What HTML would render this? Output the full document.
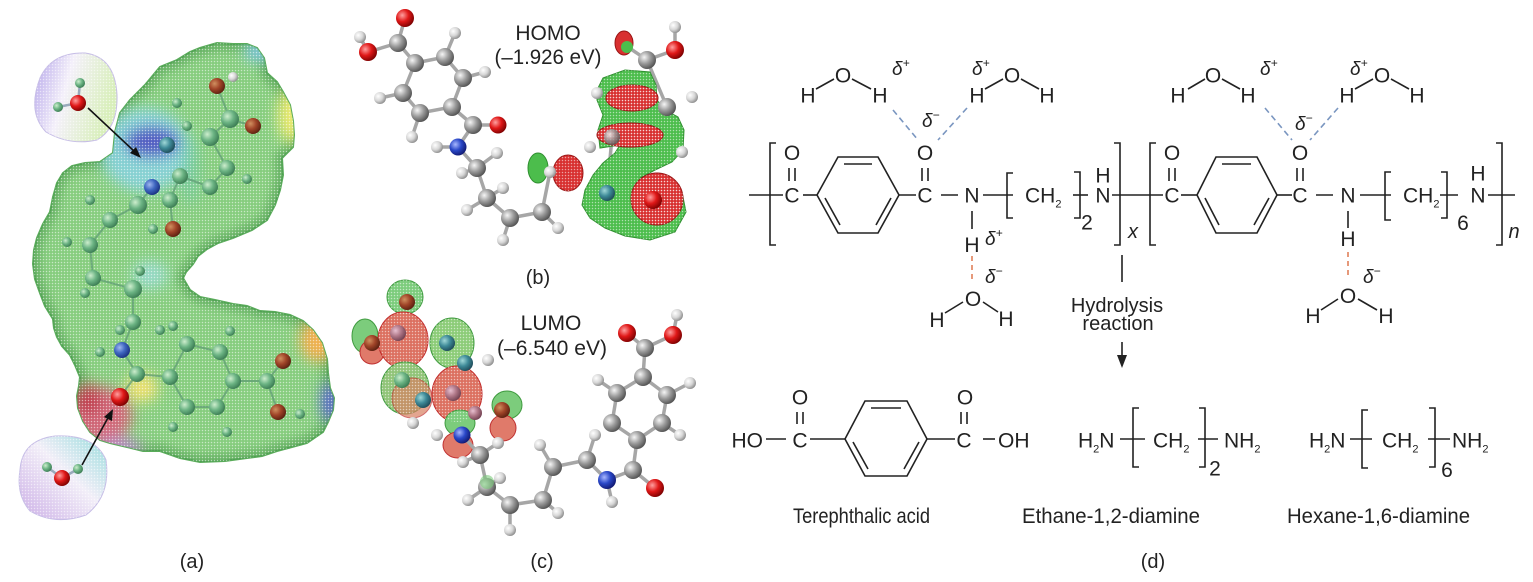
<!DOCTYPE html>
<html><head><meta charset="utf-8"><style>html,body{margin:0;padding:0;background:#fff;}svg{display:block;}</style></head><body>
<svg width="1533" height="582" viewBox="0 0 1533 582" xmlns="http://www.w3.org/2000/svg" font-family="'Liberation Sans', Arial, sans-serif">
<defs>
<radialGradient id="gC" cx="0.35" cy="0.35" r="0.7"><stop offset="0" stop-color="#f6f6f6"/><stop offset="0.5" stop-color="#9c9c9c"/><stop offset="1" stop-color="#505050"/></radialGradient>
<radialGradient id="gH" cx="0.35" cy="0.35" r="0.7"><stop offset="0" stop-color="#ffffff"/><stop offset="0.55" stop-color="#d6d6d6"/><stop offset="1" stop-color="#8a8a8a"/></radialGradient>
<radialGradient id="gO" cx="0.35" cy="0.35" r="0.7"><stop offset="0" stop-color="#ffa0a0"/><stop offset="0.5" stop-color="#e01818"/><stop offset="1" stop-color="#7a0000"/></radialGradient>
<radialGradient id="gN" cx="0.35" cy="0.35" r="0.7"><stop offset="0" stop-color="#a8b8ff"/><stop offset="0.5" stop-color="#2a48c8"/><stop offset="1" stop-color="#101870"/></radialGradient>
<radialGradient id="gG" cx="0.35" cy="0.35" r="0.7"><stop offset="0" stop-color="#cdeecd"/><stop offset="0.5" stop-color="#6cb484"/><stop offset="1" stop-color="#3a7a52"/></radialGradient>
<radialGradient id="gB" cx="0.35" cy="0.35" r="0.7"><stop offset="0" stop-color="#a0b8f0"/><stop offset="0.5" stop-color="#3e66c0"/><stop offset="1" stop-color="#1a3080"/></radialGradient>
<radialGradient id="gOd" cx="0.35" cy="0.35" r="0.7"><stop offset="0" stop-color="#d09060"/><stop offset="0.5" stop-color="#a04428"/><stop offset="1" stop-color="#5a2010"/></radialGradient>
<radialGradient id="gT" cx="0.35" cy="0.35" r="0.7"><stop offset="0" stop-color="#a0d8d8"/><stop offset="0.5" stop-color="#3e8a98"/><stop offset="1" stop-color="#1e4a58"/></radialGradient>
<radialGradient id="gP" cx="0.35" cy="0.35" r="0.7"><stop offset="0" stop-color="#e8c0d0"/><stop offset="0.5" stop-color="#b07888"/><stop offset="1" stop-color="#704050"/></radialGradient>
<linearGradient id="gW1" x1="0" y1="0" x2="1" y2="0.3"><stop offset="0" stop-color="#b4a4ea"/><stop offset="0.45" stop-color="#f4f0fa"/><stop offset="1" stop-color="#d8efba"/></linearGradient>
<linearGradient id="gW2" x1="1" y1="0" x2="0" y2="1"><stop offset="0" stop-color="#96dcdc"/><stop offset="0.45" stop-color="#f2eef8"/><stop offset="1" stop-color="#cbaee6"/></linearGradient>
<pattern id="mesh" width="3" height="3" patternUnits="userSpaceOnUse"><circle cx="1.5" cy="1.5" r="0.75" fill="#ffffff" opacity="0.55"/></pattern>
<filter id="bl" x="-50%" y="-50%" width="200%" height="200%"><feGaussianBlur stdDeviation="7"/></filter>
<filter id="bl2" x="-50%" y="-50%" width="200%" height="200%"><feGaussianBlur stdDeviation="4"/></filter>
<clipPath id="clipA"><polygon id="pA" points="113,153 115,132 120,113 130,100 145,85 160,67 177,60 190,52 200,48 217,43 233,44 247,44 257,48 264,58 267,73 277,82 283,92 290,105 293,121 294,135 293,147 282,158 283,175 280,190 275,205 267,220 252,230 233,238 218,243 207,249 198,256 193,264 186,272 183,278 190,290 200,297 215,300 233,304 247,306 260,311 275,312 290,315 303,321 313,330 322,343 327,359 328,373 330,388 334,398 333,410 328,422 323,432 307,443 292,447 277,451 262,456 247,458 225,461 200,462 180,458 160,451 143,451 127,447 110,443 100,440 90,432 83,421 78,408 77,396 79,386 80,377 75,365 70,355 62,346 57,337 54,328 53,319 45,306 40,293 35,279 33,264 34,250 37,238 43,224 50,212 53,197 57,183 63,173 72,166 85,163 100,162"/></clipPath>
</defs>
<rect width="1533" height="582" fill="#fff"/>

<!-- ===== Panel (a) ===== -->
<g>
  <path d="M40,78 Q52,52 85,53 Q115,57 117,95 Q118,128 97,140 Q70,146 46,132 Q27,112 40,78Z" fill="url(#gW1)" stroke="#c6bde6" stroke-width="1"/>
  <path d="M40,78 Q52,52 85,53 Q115,57 117,95 Q118,128 97,140 Q70,146 46,132 Q27,112 40,78Z" fill="url(#mesh)"/>
  <path d="M20,470 Q22,440 55,436 Q95,434 106,460 Q111,496 86,515 Q55,526 30,511 Q16,495 20,470Z" fill="url(#gW2)" stroke="#c6bde6" stroke-width="1"/>
  <path d="M20,470 Q22,440 55,436 Q95,434 106,460 Q111,496 86,515 Q55,526 30,511 Q16,495 20,470Z" fill="url(#mesh)"/>

  <use href="#pA" fill="#86cd7e" stroke="#5aac5a" stroke-width="2"/>
  <g clip-path="url(#clipA)">
    <use href="#pA" fill="none" stroke="#3f8f45" stroke-width="14" opacity="0.45" filter="url(#bl2)"/>
    <g filter="url(#bl)">
      <ellipse cx="145" cy="150" rx="45" ry="42" fill="#86d2dc" opacity="0.9"/>
      <ellipse cx="152" cy="142" rx="28" ry="16" fill="#4b50c0" opacity="0.9"/>
      <ellipse cx="150" cy="275" rx="18" ry="14" fill="#9adcd8" opacity="0.8"/>
      <ellipse cx="292" cy="115" rx="14" ry="28" fill="#eaea70"/>
      <ellipse cx="258" cy="52" rx="14" ry="10" fill="#80c8e0"/>
      <ellipse cx="318" cy="340" rx="18" ry="22" fill="#f0b050"/>
      <ellipse cx="330" cy="402" rx="9" ry="20" fill="#5a68d0"/>
      <ellipse cx="100" cy="415" rx="32" ry="28" fill="#d06878"/>
      <ellipse cx="88" cy="400" rx="14" ry="16" fill="#c04050"/>
      <ellipse cx="142" cy="388" rx="16" ry="14" fill="#ece070"/>
      <ellipse cx="120" cy="448" rx="22" ry="10" fill="#b890c8"/>
      <ellipse cx="190" cy="170" rx="10" ry="35" fill="#6ec8a8" opacity="0.6"/>
    </g>
  </g>
  <use href="#pA" fill="url(#mesh)"/>
  <g stroke="#5e9a74" stroke-width="2" opacity="0.7">
    <line x1="217" y1="86" x2="230" y2="119"/><line x1="230" y1="119" x2="253" y2="126"/><line x1="230" y1="119" x2="210" y2="137"/>
    <line x1="210" y1="137" x2="227" y2="168"/><line x1="227" y1="168" x2="210" y2="187"/><line x1="210" y1="187" x2="180" y2="176"/>
    <line x1="180" y1="176" x2="170" y2="200"/><line x1="170" y1="200" x2="173" y2="229"/><line x1="152" y1="187" x2="138" y2="205"/>
    <line x1="138" y1="205" x2="110" y2="220"/><line x1="110" y1="220" x2="90" y2="245"/><line x1="90" y1="245" x2="93" y2="278"/>
    <line x1="93" y1="278" x2="133" y2="289"/><line x1="133" y1="289" x2="133" y2="322"/><line x1="133" y1="322" x2="122" y2="350"/>
    <line x1="122" y1="350" x2="137" y2="374"/><line x1="137" y1="374" x2="170" y2="377"/><line x1="170" y1="377" x2="187" y2="344"/>
    <line x1="187" y1="344" x2="220" y2="352"/><line x1="220" y1="352" x2="233" y2="381"/><line x1="233" y1="381" x2="267" y2="381"/>
    <line x1="267" y1="381" x2="283" y2="361"/><line x1="267" y1="381" x2="278" y2="412"/><line x1="233" y1="381" x2="217" y2="407"/>
    <line x1="217" y1="407" x2="187" y2="407"/><line x1="187" y1="407" x2="170" y2="377"/><line x1="137" y1="374" x2="120" y2="397"/>
  </g>
  <g>
    <circle cx="217" cy="86" r="8" fill="url(#gOd)"/><circle cx="233" cy="77" r="5" fill="url(#gH)"/>
    <circle cx="253" cy="126" r="8" fill="url(#gOd)"/><circle cx="230" cy="119" r="9" fill="url(#gG)"/>
    <circle cx="210" cy="137" r="9" fill="url(#gG)"/><circle cx="187" cy="126" r="5" fill="url(#gG)"/>
    <circle cx="177" cy="103" r="5" fill="url(#gG)"/><circle cx="167" cy="145" r="8" fill="url(#gT)"/>
    <circle cx="227" cy="168" r="8" fill="url(#gG)"/><circle cx="247" cy="179" r="5" fill="url(#gG)"/>
    <circle cx="210" cy="187" r="8" fill="url(#gG)"/><circle cx="180" cy="176" r="8" fill="url(#gG)"/>
    <circle cx="152" cy="187" r="8" fill="url(#gB)"/><circle cx="170" cy="200" r="8" fill="url(#gG)"/>
    <circle cx="138" cy="205" r="9" fill="url(#gG)"/><circle cx="173" cy="229" r="8" fill="url(#gOd)"/>
    <circle cx="153" cy="229" r="5" fill="url(#gG)"/><circle cx="110" cy="220" r="8" fill="url(#gG)"/>
    <circle cx="90" cy="200" r="5" fill="url(#gG)"/><circle cx="90" cy="245" r="8" fill="url(#gG)"/>
    <circle cx="67" cy="242" r="5" fill="url(#gG)"/><circle cx="93" cy="278" r="8" fill="url(#gG)"/>
    <circle cx="133" cy="289" r="9" fill="url(#gG)"/><circle cx="140" cy="271" r="5" fill="url(#gG)"/>
    <circle cx="85" cy="293" r="5" fill="url(#gG)"/><circle cx="133" cy="322" r="8" fill="url(#gG)"/>
    <circle cx="120" cy="330" r="5" fill="url(#gG)"/><circle cx="160" cy="330" r="5" fill="url(#gG)"/>
    <circle cx="173" cy="326" r="5" fill="url(#gG)"/><circle cx="122" cy="350" r="8" fill="url(#gB)"/>
    <circle cx="100" cy="352" r="5" fill="url(#gG)"/><circle cx="137" cy="374" r="8" fill="url(#gG)"/>
    <circle cx="170" cy="377" r="8" fill="url(#gG)"/><circle cx="187" cy="344" r="8" fill="url(#gG)"/>
    <circle cx="220" cy="352" r="8" fill="url(#gG)"/><circle cx="230" cy="331" r="5" fill="url(#gG)"/>
    <circle cx="233" cy="381" r="8" fill="url(#gG)"/><circle cx="267" cy="381" r="8" fill="url(#gG)"/>
    <circle cx="283" cy="361" r="8" fill="url(#gOd)"/><circle cx="278" cy="412" r="8" fill="url(#gOd)"/>
    <circle cx="300" cy="414" r="5" fill="url(#gG)"/><circle cx="187" cy="407" r="8" fill="url(#gG)"/>
    <circle cx="217" cy="407" r="8" fill="url(#gG)"/><circle cx="173" cy="427" r="5" fill="url(#gG)"/>
    <circle cx="227" cy="432" r="5" fill="url(#gG)"/><circle cx="120" cy="397" r="9" fill="url(#gO)"/>
  </g>
  <line x1="58" y1="107" x2="78" y2="103" stroke="#9ab" stroke-width="2.5"/><line x1="80" y1="83" x2="78" y2="103" stroke="#9ab" stroke-width="2.5"/>
  <circle cx="58" cy="107" r="5" fill="url(#gG)"/><circle cx="80" cy="83" r="5" fill="url(#gG)"/><circle cx="78" cy="103" r="8" fill="url(#gO)"/>
  <line x1="47" y1="467" x2="62" y2="478" stroke="#9ab" stroke-width="2.5"/><line x1="78" y1="469" x2="62" y2="478" stroke="#9ab" stroke-width="2.5"/>
  <circle cx="47" cy="467" r="5" fill="url(#gG)"/><circle cx="78" cy="469" r="5" fill="url(#gG)"/><circle cx="62" cy="478" r="8" fill="url(#gO)"/>
  <line x1="88" y1="108" x2="135" y2="152" stroke="#111" stroke-width="1.6"/>
  <polygon points="141,158 130,153 136,147" fill="#111"/>
  <line x1="82" y1="465" x2="109" y2="416" stroke="#111" stroke-width="1.6"/>
  <polygon points="113,409 112,421 104,417" fill="#111"/>
  <text x="192" y="568" font-size="20" text-anchor="middle" fill="#222">(a)</text>
</g>

<!-- ===== Panel (b) ===== -->
<g>
  <g stroke="#a6a6a6" stroke-width="3.5" stroke-linecap="round">
    <line x1="405" y1="18" x2="398" y2="43"/><line x1="398" y1="43" x2="368" y2="52"/><line x1="368" y1="52" x2="360" y2="37"/>
    <line x1="398" y1="43" x2="415" y2="63"/>
    <polyline points="415,63 445,57 463,78 452,107 420,113 403,93 415,63" fill="none"/>
    <line x1="445" y1="57" x2="455" y2="33"/><line x1="463" y1="78" x2="485" y2="72"/><line x1="403" y1="93" x2="380" y2="98"/><line x1="420" y1="113" x2="412" y2="137"/>
    <line x1="452" y1="107" x2="473" y2="125"/><line x1="473" y1="125" x2="498" y2="125"/><line x1="473" y1="125" x2="458" y2="147"/>
    <line x1="458" y1="147" x2="437" y2="147"/><line x1="458" y1="147" x2="477" y2="168"/>
    <line x1="477" y1="168" x2="497" y2="153"/><line x1="477" y1="168" x2="462" y2="173"/><line x1="477" y1="168" x2="487" y2="198"/>
    <line x1="487" y1="198" x2="503" y2="188"/><line x1="487" y1="198" x2="467" y2="210"/><line x1="487" y1="198" x2="510" y2="218"/>
    <line x1="510" y1="218" x2="503" y2="240"/><line x1="510" y1="218" x2="542" y2="212"/><line x1="542" y1="212" x2="558" y2="228"/>
    <line x1="542" y1="212" x2="550" y2="172"/>
    <line x1="612" y1="137" x2="607" y2="193"/><line x1="607" y1="193" x2="653" y2="200"/><line x1="612" y1="137" x2="667" y2="107"/>
    <line x1="647" y1="60" x2="667" y2="107"/><line x1="647" y1="60" x2="625" y2="45"/><line x1="647" y1="60" x2="675" y2="50"/><line x1="675" y1="50" x2="675" y2="27"/>
  </g>
  <circle cx="405" cy="18" r="9" fill="url(#gO)"/><circle cx="398" cy="43" r="9" fill="url(#gC)"/>
  <circle cx="360" cy="37" r="6" fill="url(#gH)"/><circle cx="368" cy="52" r="9" fill="url(#gO)"/>
  <circle cx="455" cy="33" r="6" fill="url(#gH)"/><circle cx="485" cy="72" r="6" fill="url(#gH)"/><circle cx="380" cy="98" r="6" fill="url(#gH)"/><circle cx="412" cy="137" r="6" fill="url(#gH)"/>
  <circle cx="415" cy="63" r="9" fill="url(#gC)"/><circle cx="445" cy="57" r="9" fill="url(#gC)"/><circle cx="463" cy="78" r="9" fill="url(#gC)"/>
  <circle cx="452" cy="107" r="9" fill="url(#gC)"/><circle cx="420" cy="113" r="9" fill="url(#gC)"/><circle cx="403" cy="93" r="9" fill="url(#gC)"/>
  <circle cx="473" cy="125" r="9" fill="url(#gC)"/><circle cx="498" cy="125" r="8.5" fill="url(#gO)"/>
  <circle cx="437" cy="147" r="6" fill="url(#gH)"/><circle cx="458" cy="147" r="8.5" fill="url(#gN)"/>
  <circle cx="497" cy="153" r="6" fill="url(#gH)"/><circle cx="462" cy="173" r="6" fill="url(#gH)"/><circle cx="477" cy="168" r="9" fill="url(#gC)"/>
  <circle cx="503" cy="188" r="6" fill="url(#gH)"/><circle cx="467" cy="210" r="6" fill="url(#gH)"/><circle cx="487" cy="198" r="9" fill="url(#gC)"/>
  <circle cx="503" cy="240" r="6" fill="url(#gH)"/><circle cx="510" cy="218" r="9" fill="url(#gC)"/>
  <circle cx="558" cy="228" r="6" fill="url(#gH)"/><circle cx="542" cy="212" r="9" fill="url(#gC)"/>
  <g stroke-width="1">
    <path d="M603,78 L625,70 L650,72 L656,85 L657,100 L665,110 L678,117 L684,130 L683,150 L672,162 L655,170 L640,178 L665,178 L682,192 L686,212 L675,232 L650,240 L625,236 L605,228 L590,218 L582,205 L585,190 L593,175 L603,163 L615,153 L620,145 L600,148 L598,130 L603,115 L597,100 L598,88Z" fill="#4cbd4c" stroke="#2f8f2f"/>
    <ellipse cx="538" cy="168" rx="10" ry="15" fill="#4cbd4c" stroke="#2f8f2f"/>
    <ellipse cx="568" cy="173" rx="15" ry="18" fill="#d83030" stroke="#9a1414"/>
    <ellipse cx="632" cy="98" rx="26" ry="13" fill="#d83030" stroke="#9a1414"/>
    <ellipse cx="630" cy="135" rx="33" ry="12" fill="#d83030" stroke="#9a1414"/>
    <circle cx="657" cy="199" r="26" fill="#d83030" stroke="#9a1414"/>
    <ellipse cx="624" cy="43" rx="9" ry="12" fill="#d83030" stroke="#9a1414"/>
    <ellipse cx="627" cy="47" rx="6" ry="6" fill="#4cbd4c"/>
    <path d="M603,78 L625,70 L650,72 L656,85 L657,100 L665,110 L678,117 L684,130 L683,150 L672,162 L655,170 L640,178 L665,178 L682,192 L686,212 L675,232 L650,240 L625,236 L605,228 L590,218 L582,205 L585,190 L593,175 L603,163 L615,153 L620,145 L600,148 L598,130 L603,115 L597,100 L598,88Z" fill="url(#mesh)"/>
    <ellipse cx="632" cy="98" rx="26" ry="13" fill="url(#mesh)"/><ellipse cx="630" cy="135" rx="33" ry="12" fill="url(#mesh)"/>
    <circle cx="657" cy="199" r="26" fill="url(#mesh)"/><ellipse cx="568" cy="173" rx="15" ry="18" fill="url(#mesh)"/>
  </g>
  <circle cx="647" cy="60" r="9" fill="url(#gC)"/><circle cx="675" cy="27" r="6" fill="url(#gH)"/><circle cx="675" cy="50" r="9" fill="url(#gO)"/>
  <circle cx="597" cy="93" r="6" fill="url(#gH)"/><circle cx="667" cy="107" r="9" fill="url(#gC)"/><circle cx="692" cy="97" r="6" fill="url(#gH)"/>
  <circle cx="612" cy="137" r="8" fill="url(#gC)" opacity="0.85"/><circle cx="590" cy="147" r="6" fill="url(#gH)"/><circle cx="682" cy="152" r="6" fill="url(#gH)"/>
  <circle cx="607" cy="193" r="8" fill="url(#gT)"/><circle cx="653" cy="200" r="9" fill="url(#gO)"/><circle cx="550" cy="172" r="6" fill="url(#gH)"/>
  <text x="548" y="40" font-size="21" text-anchor="middle" fill="#222">HOMO</text>
  <text x="548" y="64" font-size="21" text-anchor="middle" fill="#222" textLength="107" lengthAdjust="spacingAndGlyphs">(–1.926 eV)</text>
  <text x="538" y="284" font-size="20" text-anchor="middle" fill="#222">(b)</text>
</g>

<!-- ===== Panel (c) ===== -->
<g>
  <g stroke-width="1">
    <ellipse cx="405" cy="297" rx="18" ry="17" fill="#7ccc7c" stroke="#3e9a3e"/>
    <ellipse cx="365" cy="336" rx="13" ry="17" fill="#7ccc7c" stroke="#3e9a3e"/>
    <ellipse cx="372" cy="352" rx="12" ry="12" fill="#e07a6a" stroke="#c03030"/>
    <ellipse cx="403" cy="340" rx="25" ry="28" fill="#dc7060" stroke="#c02828"/>
    <ellipse cx="452" cy="343" rx="22" ry="25" fill="#8ccc78" stroke="#3e9a3e"/>
    <ellipse cx="405" cy="388" rx="24" ry="26" fill="#90c478" stroke="#3e9a3e"/>
    <ellipse cx="412" cy="398" rx="20" ry="20" fill="#d88060" stroke="#c03030" opacity="0.7"/>
    <ellipse cx="457" cy="394" rx="25" ry="28" fill="#dc7060" stroke="#c02828"/>
    <ellipse cx="507" cy="405" rx="15" ry="14" fill="#7ccc7c" stroke="#3e9a3e"/>
    <ellipse cx="503" cy="428" rx="13" ry="13" fill="#e07a6a" stroke="#c03030"/>
    <ellipse cx="460" cy="423" rx="15" ry="13" fill="#7ccc7c" stroke="#3e9a3e"/>
    <ellipse cx="458" cy="445" rx="15" ry="13" fill="#e07a6a" stroke="#c03030"/>
    <ellipse cx="405" cy="297" rx="18" ry="17" fill="url(#mesh)"/><ellipse cx="403" cy="340" rx="25" ry="28" fill="url(#mesh)"/>
    <ellipse cx="452" cy="343" rx="22" ry="25" fill="url(#mesh)"/><ellipse cx="405" cy="388" rx="24" ry="26" fill="url(#mesh)"/>
    <ellipse cx="457" cy="394" rx="25" ry="28" fill="url(#mesh)"/>
  </g>
  <circle cx="407" cy="302" r="8" fill="url(#gOd)"/><circle cx="372" cy="343" r="8" fill="url(#gOd)"/>
  <circle cx="398" cy="333" r="8" fill="url(#gP)"/><circle cx="447" cy="343" r="8" fill="url(#gT)"/>
  <circle cx="465" cy="363" r="8" fill="url(#gT)"/><circle cx="402" cy="380" r="8" fill="url(#gG)"/>
  <circle cx="423" cy="400" r="8" fill="url(#gT)"/><circle cx="453" cy="393" r="8" fill="url(#gP)"/>
  <circle cx="475" cy="413" r="7" fill="url(#gP)"/><circle cx="502" cy="410" r="8" fill="url(#gOd)"/>
  <circle cx="488" cy="360" r="6" fill="url(#gH)"/><circle cx="413" cy="423" r="6" fill="url(#gH)"/><circle cx="437" cy="435" r="6" fill="url(#gH)"/>
  <g stroke="#a6a6a6" stroke-width="3.5" stroke-linecap="round">
    <polyline points="637,440 612,423 617,393 643,377 667,395 662,423 637,440" fill="none"/>
    <line x1="643" y1="377" x2="645" y2="348"/><line x1="645" y1="348" x2="627" y2="333"/><line x1="645" y1="348" x2="673" y2="335"/><line x1="673" y1="335" x2="677" y2="315"/>
    <line x1="617" y1="393" x2="598" y2="380"/><line x1="667" y1="395" x2="690" y2="383"/><line x1="662" y1="423" x2="680" y2="435"/>
    <line x1="637" y1="440" x2="633" y2="470"/><line x1="633" y1="470" x2="655" y2="488"/><line x1="633" y1="470" x2="607" y2="480"/>
    <line x1="607" y1="480" x2="612" y2="502"/><line x1="607" y1="480" x2="587" y2="460"/><line x1="587" y1="460" x2="595" y2="435"/>
    <line x1="587" y1="460" x2="553" y2="467"/><line x1="553" y1="467" x2="540" y2="445"/><line x1="553" y1="467" x2="543" y2="500"/>
    <line x1="543" y1="500" x2="558" y2="513"/><line x1="543" y1="500" x2="510" y2="505"/><line x1="510" y1="505" x2="510" y2="530"/>
    <line x1="510" y1="505" x2="487" y2="487"/><line x1="487" y1="487" x2="468" y2="500"/><line x1="487" y1="487" x2="500" y2="478"/>
    <line x1="487" y1="487" x2="480" y2="455"/><line x1="480" y1="455" x2="498" y2="443"/><line x1="480" y1="455" x2="463" y2="462"/>
    <line x1="480" y1="455" x2="462" y2="435"/>
  </g>
  <circle cx="462" cy="435" r="8.5" fill="url(#gN)"/>
  <circle cx="627" cy="333" r="9" fill="url(#gO)"/><circle cx="677" cy="315" r="6" fill="url(#gH)"/><circle cx="673" cy="335" r="9" fill="url(#gO)"/>
  <circle cx="645" cy="348" r="9" fill="url(#gC)"/>
  <circle cx="598" cy="380" r="6" fill="url(#gH)"/><circle cx="690" cy="383" r="6" fill="url(#gH)"/><circle cx="680" cy="435" r="6" fill="url(#gH)"/>
  <circle cx="643" cy="377" r="9" fill="url(#gC)"/><circle cx="617" cy="393" r="9" fill="url(#gC)"/><circle cx="667" cy="395" r="9" fill="url(#gC)"/>
  <circle cx="612" cy="423" r="9" fill="url(#gC)"/><circle cx="662" cy="423" r="9" fill="url(#gC)"/><circle cx="637" cy="440" r="9" fill="url(#gC)"/>
  <circle cx="655" cy="488" r="9" fill="url(#gO)"/><circle cx="633" cy="470" r="9" fill="url(#gC)"/>
  <circle cx="612" cy="502" r="6" fill="url(#gH)"/><circle cx="607" cy="480" r="9" fill="url(#gN)"/>
  <circle cx="595" cy="435" r="6" fill="url(#gH)"/><circle cx="587" cy="460" r="9" fill="url(#gC)"/>
  <circle cx="540" cy="445" r="6" fill="url(#gH)"/><circle cx="553" cy="467" r="9" fill="url(#gC)"/>
  <circle cx="558" cy="513" r="6" fill="url(#gH)"/><circle cx="543" cy="500" r="9" fill="url(#gC)"/>
  <circle cx="510" cy="530" r="6" fill="url(#gH)"/><circle cx="510" cy="505" r="9" fill="url(#gC)"/>
  <circle cx="468" cy="500" r="6" fill="url(#gH)"/><circle cx="500" cy="478" r="6" fill="url(#gH)"/><circle cx="487" cy="487" r="9" fill="url(#gC)"/>
  <ellipse cx="487" cy="482" rx="7" ry="7" fill="#7ccc7c" opacity="0.6"/>
  <circle cx="498" cy="443" r="6" fill="url(#gH)"/><circle cx="463" cy="462" r="6" fill="url(#gH)"/><circle cx="480" cy="455" r="9" fill="url(#gC)"/>
  <text x="551" y="330" font-size="21" text-anchor="middle" fill="#222">LUMO</text>
  <text x="552" y="355" font-size="21" text-anchor="middle" fill="#222" textLength="110" lengthAdjust="spacingAndGlyphs">(–6.540 eV)</text>
  <text x="542" y="568" font-size="20" text-anchor="middle" fill="#222">(c)</text>
</g>

<!-- ===== Panel (d) ===== -->
<g fill="#222" font-size="21" text-anchor="middle">
  <text x="808" y="102.5">H</text><text x="843" y="82.5">O</text><text x="880" y="102.5">H</text>
  <text x="977" y="102.5">H</text><text x="1012" y="82.5">O</text><text x="1047" y="102.5">H</text>
  <text x="925" y="160">O</text><text x="925" y="202.5">C</text>
  <text x="792" y="160">O</text><text x="792" y="202.5">C</text>
  <text x="972" y="202.5">N</text>
  <text x="972" y="252">H</text>
  <text x="973" y="306">O</text><text x="937" y="327">H</text><text x="1006" y="326">H</text>
  <text x="1103" y="182.5">H</text><text x="1103" y="202.5">N</text>
  <text x="1087" y="229.5">2</text>
  <text x="1025" y="202.5" text-anchor="start">CH<tspan font-size="11" dy="5">2</tspan></text>
  <text x="1178" y="102.5">H</text><text x="1213" y="82.5">O</text><text x="1248" y="102.5">H</text>
  <text x="1347" y="102.5">H</text><text x="1382" y="82.5">O</text><text x="1417" y="102.5">H</text>
  <text x="1172" y="160">O</text><text x="1172" y="202.5">C</text>
  <text x="1300" y="160">O</text><text x="1300" y="202.5">C</text>
  <text x="1348" y="202.5">N</text>
  <text x="1348" y="246">H</text>
  <text x="1348" y="303">O</text><text x="1313" y="323">H</text><text x="1386" y="323">H</text>
  <text x="1478" y="180.5">H</text><text x="1478" y="202.5">N</text>
  <text x="1463" y="230">6</text>
  <text x="1403" y="202.5" text-anchor="start">CH<tspan font-size="11" dy="5">2</tspan></text>
  <text x="1133" y="238" font-size="20" font-style="italic">x</text>
  <text x="1514" y="238" font-size="20" font-style="italic">n</text>
  <g font-size="19" font-style="italic" text-anchor="start">
    <text x="892" y="75">δ<tspan font-size="12" dy="-8">+</tspan></text>
    <text x="972" y="75">δ<tspan font-size="12" dy="-8">+</tspan></text>
    <text x="922" y="127">δ<tspan font-size="12" dy="-8">−</tspan></text>
    <text x="985" y="245">δ<tspan font-size="12" dy="-8">+</tspan></text>
    <text x="985" y="283">δ<tspan font-size="12" dy="-8">−</tspan></text>
    <text x="1260" y="75">δ<tspan font-size="12" dy="-8">+</tspan></text>
    <text x="1350" y="75">δ<tspan font-size="12" dy="-8">+</tspan></text>
    <text x="1295" y="130">δ<tspan font-size="12" dy="-8">−</tspan></text>
    <text x="1363" y="283">δ<tspan font-size="12" dy="-8">−</tspan></text>
  </g>
  <text x="1117" y="312" font-size="20">Hydrolysis</text>
  <text x="1118" y="330" font-size="20">reaction</text>
  <text x="763" y="447.5" text-anchor="end">HO</text>
  <text x="800" y="447.5">C</text><text x="800" y="404.5">O</text>
  <text x="964" y="447.5">C</text><text x="965" y="404.5">O</text>
  <text x="998" y="447.5" text-anchor="start">OH</text>
  <text x="1078" y="447.5" text-anchor="start">H<tspan font-size="11" dy="5">2</tspan><tspan dy="-5">N</tspan></text>
  <text x="1153" y="447.5" text-anchor="start">CH<tspan font-size="11" dy="5">2</tspan></text>
  <text x="1215" y="475.5">2</text>
  <text x="1224" y="447.5" text-anchor="start">NH<tspan font-size="11" dy="5">2</tspan></text>
  <text x="1309" y="447.5" text-anchor="start">H<tspan font-size="11" dy="5">2</tspan><tspan dy="-5">N</tspan></text>
  <text x="1382" y="447.5" text-anchor="start">CH<tspan font-size="11" dy="5">2</tspan></text>
  <text x="1447" y="477">6</text>
  <text x="1452" y="447.5" text-anchor="start">NH<tspan font-size="11" dy="5">2</tspan></text>
  <text x="793" y="523" text-anchor="start" textLength="137" lengthAdjust="spacingAndGlyphs">Terephthalic acid</text>
  <text x="1022" y="523" text-anchor="start" textLength="178" lengthAdjust="spacingAndGlyphs">Ethane-1,2-diamine</text>
  <text x="1287" y="523" text-anchor="start" textLength="183" lengthAdjust="spacingAndGlyphs">Hexane-1,6-diamine</text>
  <text x="1153" y="568" font-size="20">(d)</text>
</g>
<g stroke="#222" stroke-width="1.6" fill="none">
  <line x1="816" y1="89" x2="834" y2="79"/><line x1="852" y1="79" x2="871" y2="89"/>
  <line x1="985" y1="89" x2="1003" y2="79"/><line x1="1021" y1="79" x2="1039" y2="89"/>
  <line x1="945" y1="313" x2="963" y2="302"/><line x1="983" y1="302" x2="998" y2="312"/>
  <line x1="749" y1="195" x2="783" y2="195"/>
  <path d="M776,143 L770,143 L770,245 L776,245"/>
  <line x1="789" y1="168" x2="789" y2="181"/><line x1="795" y1="168" x2="795" y2="181"/>
  <line x1="803" y1="195" x2="817" y2="195"/>
  <polygon points="817,195 838,157 878,157 899,195 878,233 838,233"/>
  <line x1="844" y1="164" x2="872" y2="164"/>
  <line x1="825" y1="198" x2="840" y2="225"/><line x1="891" y1="198" x2="876" y2="225"/>
  <line x1="899" y1="195" x2="916" y2="195"/>
  <line x1="922" y1="168" x2="922" y2="181"/><line x1="928" y1="168" x2="928" y2="181"/>
  <line x1="941" y1="195" x2="958" y2="195"/>
  <line x1="983" y1="195" x2="1013" y2="195"/>
  <path d="M1013,173 L1007,173 L1007,218 L1013,218"/>
  <path d="M1074,172 L1080,172 L1080,218 L1074,218"/>
  <line x1="1073" y1="195" x2="1088" y2="195"/>
  <line x1="1112" y1="195" x2="1163" y2="195"/>
  <path d="M1114,143 L1120,143 L1120,245 L1114,245"/>
  <line x1="972" y1="211" x2="972" y2="229"/>
  <line x1="1122" y1="255" x2="1122" y2="282"/>
  <line x1="1122" y1="342" x2="1122" y2="358"/>
  <line x1="1188" y1="89" x2="1205" y2="79"/><line x1="1222" y1="79" x2="1240" y2="89"/>
  <line x1="1355" y1="89" x2="1373" y2="79"/><line x1="1391" y1="79" x2="1409" y2="89"/>
  <line x1="1321" y1="310" x2="1338" y2="299"/><line x1="1358" y1="299" x2="1377" y2="310"/>
  <path d="M1156,143 L1150,143 L1150,245 L1156,245"/>
  <line x1="1169" y1="168" x2="1169" y2="181"/><line x1="1175" y1="168" x2="1175" y2="181"/>
  <line x1="1181" y1="195" x2="1197" y2="195"/>
  <polygon points="1197,195 1216,157 1257,157 1277,195 1257,233 1216,233"/>
  <line x1="1222" y1="164" x2="1251" y2="164"/>
  <line x1="1205" y1="198" x2="1219" y2="225"/><line x1="1269" y1="198" x2="1254" y2="225"/>
  <line x1="1277" y1="195" x2="1292" y2="195"/>
  <line x1="1297" y1="168" x2="1297" y2="181"/><line x1="1303" y1="168" x2="1303" y2="181"/>
  <line x1="1316" y1="195" x2="1333" y2="195"/>
  <line x1="1360" y1="195" x2="1391" y2="195"/>
  <path d="M1391,172 L1385,172 L1385,220 L1391,220"/>
  <path d="M1441,172 L1447,172 L1447,218 L1441,218"/>
  <line x1="1440" y1="195" x2="1458" y2="195"/>
  <line x1="1488" y1="195" x2="1515" y2="195"/>
  <path d="M1496,143 L1502,143 L1502,245 L1496,245"/>
  <line x1="1348" y1="211" x2="1348" y2="228"/>
  <line x1="766" y1="439" x2="786" y2="439"/>
  <line x1="797" y1="412" x2="797" y2="424"/><line x1="803" y1="412" x2="803" y2="424"/>
  <line x1="810" y1="439" x2="845" y2="439"/>
  <polygon points="845,439 865,401 907,401 927,439 907,476 865,476"/>
  <line x1="871" y1="408" x2="901" y2="408"/>
  <line x1="853" y1="442" x2="868" y2="469"/><line x1="919" y1="442" x2="904" y2="469"/>
  <line x1="927" y1="439" x2="955" y2="439"/>
  <line x1="961" y1="412" x2="961" y2="424"/><line x1="967" y1="412" x2="967" y2="424"/>
  <line x1="983" y1="439" x2="995" y2="439"/>
  <line x1="1120" y1="439" x2="1145" y2="439"/>
  <path d="M1139,408 L1133,408 L1133,467 L1139,467"/>
  <path d="M1199,408 L1205,408 L1205,467 L1199,467"/>
  <line x1="1198" y1="439" x2="1218" y2="439"/>
  <line x1="1350" y1="439" x2="1372" y2="439"/>
  <path d="M1368,410 L1362,410 L1362,468 L1368,468"/>
  <path d="M1429,408 L1435,408 L1435,467 L1429,467"/>
  <line x1="1428" y1="439" x2="1450" y2="439"/>
</g>
<polygon points="1117,355 1127,355 1122,368" fill="#222"/>
<g stroke="#7a96c0" stroke-width="1.6" stroke-dasharray="6,4" fill="none">
  <line x1="893" y1="110" x2="918" y2="140"/><line x1="967" y1="108" x2="938" y2="140"/>
  <line x1="1265" y1="108" x2="1292" y2="140"/><line x1="1338" y1="108" x2="1310" y2="140"/>
</g>
<g stroke="#e0805a" stroke-width="1.6" stroke-dasharray="5,4" fill="none">
  <line x1="972" y1="256" x2="972" y2="282"/>
  <line x1="1348" y1="252" x2="1348" y2="279"/>
</g>
</svg>
</body></html>
